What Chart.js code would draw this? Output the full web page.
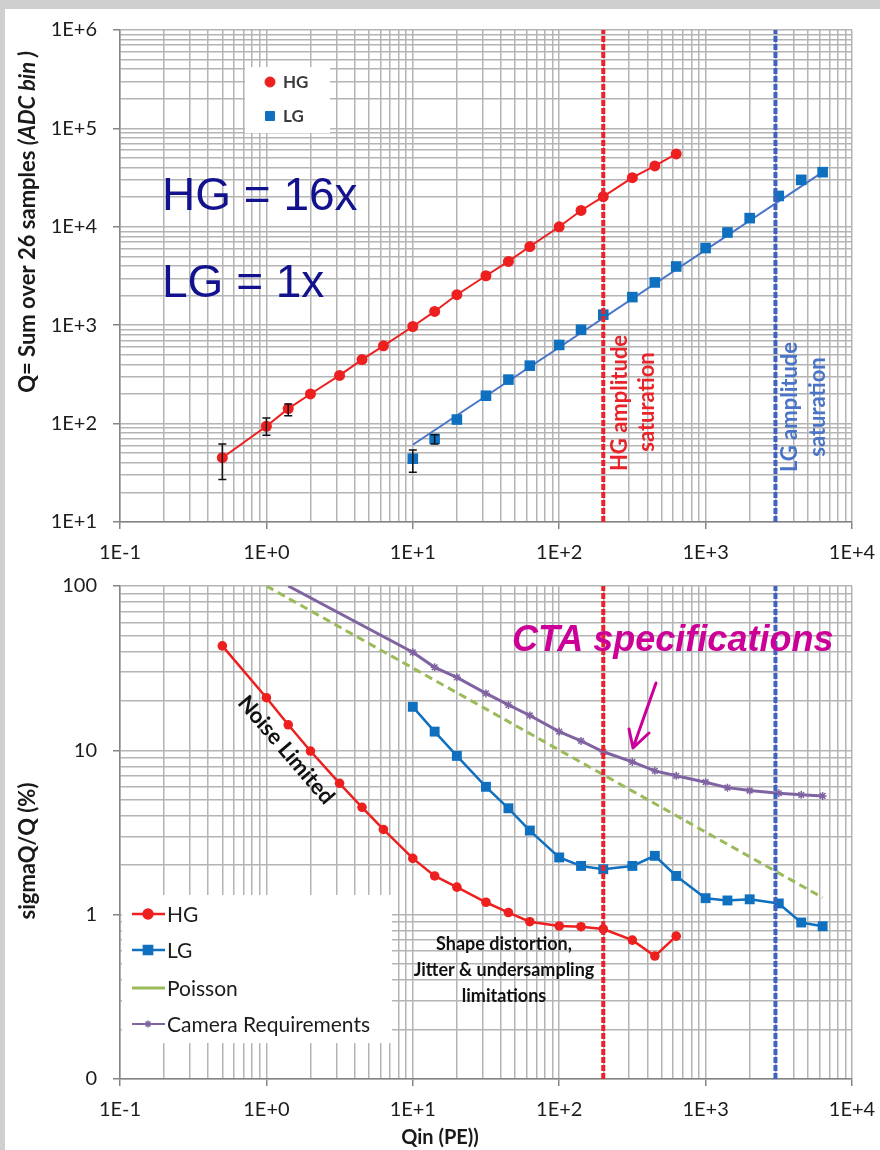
<!DOCTYPE html>
<html><head><meta charset="utf-8">
<script src="https://cdn.jsdelivr.net/npm/chart.js@4.4.1/dist/chart.umd.min.js"></script>
<style>
html,body{margin:0;padding:0;}
body{width:880px;height:1150px;background:#cfcfcf;position:relative;overflow:hidden;}
#panel{position:absolute;left:5px;top:9px;width:875px;height:1141px;background:#fff;}
canvas{position:absolute;left:0;}
#c1{top:0;} #c2{top:565px;}
</style></head><body>
<div id="panel"></div>
<canvas id="c1" width="880" height="565"></canvas>
<canvas id="c2" width="880" height="585"></canvas>
<script>
// ---------- tick labels ----------
const xTickValues = [0.1, 1, 10, 100, 1000, 10000];
const xTickLabels = ['1E-1', '1E+0', '1E+1', '1E+2', '1E+3', '1E+4'];
const qTickValues = [10, 100, 1000, 10000, 100000, 1000000];
const qTickLabels = ['1E+1', '1E+2', '1E+3', '1E+4', '1E+5', '1E+6'];
const sTickValues = [0.1, 1, 10, 100];
const sTickLabels = ['0', '1', '10', '100'];

// ---------- top chart: Q vs Qin ----------
const hgQin = [0.5, 1, 1.41, 2, 3.16, 4.5, 6.3, 10, 14.1, 20, 31.6, 45, 63, 100, 141, 200, 316, 450, 630];
const hgQ = [45, 94, 142, 200, 309, 447, 617, 970, 1380, 2040, 3180, 4450, 6300, 10000, 14650, 20300, 31600, 41600, 55000];
const hgQErrLo = [27, 76, 120];
const hgQErrHi = [62, 114, 158];
const lgQin = [10, 14.1, 20, 31.6, 45, 63, 100, 141, 200, 316, 450, 630, 1000, 1410, 2000, 3160, 4500, 6300];
const lgQ = [44, 70, 110, 192, 280, 388, 630, 900, 1280, 1930, 2720, 3950, 6080, 8760, 12250, 20600, 30000, 35900];
const lgQErrLo = [32, 62];
const lgQErrHi = [54, 77];
const lgFitQin = [10, 6300];
const lgFitQ = [61, 36000];
const hgSatQin = 200;
const lgSatQin = 3000;

// ---------- bottom chart: sigmaQ/Q ----------
const hgSigma = [43.2, 20.9, 14.3, 9.9, 6.3, 4.5, 3.3, 2.2, 1.72, 1.47, 1.19, 1.03, 0.906, 0.853, 0.845, 0.818, 0.70, 0.56, 0.74];
const lgSigma = [18.4, 13.0, 9.25, 6.0, 4.44, 3.25, 2.23, 1.98, 1.89, 1.98, 2.28, 1.72, 1.26, 1.22, 1.24, 1.17, 0.896, 0.85];
const poissonQin = [1, 6300];
const poissonSigma = [100, 1.27];
const camQin = [1.41, 10, 14.1, 20, 31.6, 45, 63, 100, 141, 200, 316, 450, 630, 1000, 1410, 2000, 3160, 4500, 6300];
const camSigma = [100, 39.5, 32, 27.8, 22.2, 18.9, 16.3, 13.0, 11.4, 9.8, 8.5, 7.5, 7.0, 6.4, 5.93, 5.69, 5.48, 5.36, 5.28];

// ---------- colours ----------
const RED = '#ee1f1f', RED_V = '#e8242a', BLUE = '#1070c0', BLUE_FIT = '#4a74c6', BLUE_V = '#3e62bd';
const GREEN = '#9bbb59', PURPLE = '#8064a2', MAGENTA = '#cc0099', NAVY = '#12128f';

const pts = (xs, ys) => xs.map((x, i) => ({ x, y: ys[i] }));
const vline = (x, ys) => [{ x, y: ys[0] }, { x, y: ys[ys.length - 1] }];
const sameVal = (a, b) => Math.abs(Math.log10(a) - Math.log10(b)) < 1e-6;

function logTicks(majors) {
  const t = [];
  for (let i = 0; i < majors.length; i++) {
    t.push({ value: majors[i] });
    if (i < majors.length - 1) for (let k = 2; k <= 9; k++) t.push({ value: +(majors[i] * k).toPrecision(6) });
  }
  return t;
}
function axis(majors, labels, isX, xHeight) {
  return {
    type: 'logarithmic', position: isX ? 'bottom' : 'left',
    min: majors[0], max: majors[majors.length - 1],
    afterBuildTicks: s => { s.ticks = logTicks(majors); },
    afterFit: s => {
      if (isX) { s.height = xHeight; s.paddingLeft = 0; s.paddingRight = 0; }
      else { s.width = 120; s.paddingTop = 0; s.paddingBottom = 0; }
    },
    ticks: {
      autoSkip: false, maxRotation: 0, minRotation: 0, padding: isX ? 12 : 16,
      color: '#1c1c1c', font: { family: 'Lato', size: 20 },
      callback: v => { const i = majors.findIndex(m => sameVal(m, v)); return i >= 0 ? labels[i] : ''; }
    },
    grid: {
      color: '#b4b4b4', lineWidth: 1.5, tickLength: 7,
      tickColor: c => (c.tick && majors.some(m => sameVal(m, c.tick.value))) ? '#858585' : 'rgba(0,0,0,0)'
    },
    border: { color: '#858585', width: 1.5 }
  };
}

function txt(ctx, s, x, y, o) {
  ctx.save();
  ctx.translate(x, y);
  if (o.rot) ctx.rotate(o.rot);
  ctx.font = o.font; ctx.fillStyle = o.color;
  ctx.textAlign = o.align || 'center'; ctx.textBaseline = o.base || 'middle';
  if (o.w) { const m = ctx.measureText(s).width; if (m > o.w) ctx.scale(o.w / m, 1); }
  ctx.fillText(s, 0, 0);
  ctx.restore();
}
function richRot(ctx, parts, cx, cy, rot, target, color) {
  ctx.save();
  ctx.translate(cx, cy); ctx.rotate(rot);
  let total = 0;
  parts.forEach(p => { ctx.font = p[1]; total += ctx.measureText(p[0]).width; });
  const k = total > target ? target / total : 1;
  ctx.scale(k, 1);
  let x = -total / 2;
  ctx.fillStyle = color; ctx.textBaseline = 'middle'; ctx.textAlign = 'left';
  parts.forEach(p => { ctx.font = p[1]; ctx.fillText(p[0], x, 0); x += ctx.measureText(p[0]).width; });
  ctx.restore();
}
function marker(ctx, style, r, x, y, color, bw) {
  ctx.save();
  ctx.fillStyle = color; ctx.strokeStyle = color; ctx.lineWidth = bw || 1;
  Chart.helpers.drawPoint(ctx, { pointStyle: style, radius: r, rotation: 0, borderWidth: bw || 1 }, x, y);
  ctx.restore();
}

// ---------- top chart ----------
const topPlugin = {
  id: 'topDecor',
  afterDatasetsDraw(chart) {
    const ctx = chart.ctx, xs = chart.scales.x, ys = chart.scales.y;
    ctx.save(); ctx.strokeStyle = '#111'; ctx.lineWidth = 1.5;
    const bars = (xv, lo, hi) => lo.forEach((l, i) => {
      const px = xs.getPixelForValue(xv[i]), y1 = ys.getPixelForValue(l), y2 = ys.getPixelForValue(hi[i]);
      ctx.beginPath(); ctx.moveTo(px, y1); ctx.lineTo(px, y2);
      ctx.moveTo(px - 4, y1); ctx.lineTo(px + 4, y1); ctx.moveTo(px - 4, y2); ctx.lineTo(px + 4, y2); ctx.stroke();
    });
    bars(hgQin, hgQErrLo, hgQErrHi); bars(lgQin, lgQErrLo, lgQErrHi);
    ctx.restore();
  },
  afterDraw(chart) {
    const ctx = chart.ctx;
    ctx.save(); ctx.fillStyle = '#fff'; ctx.fillRect(245, 67, 85, 66); ctx.restore();
    marker(ctx, 'circle', 5, 270, 82, RED);
    marker(ctx, 'rect', 6.4, 270, 116, BLUE);
    txt(ctx, 'HG', 283, 83, { font: 'bold 17px Lato', color: '#3a3a3a', align: 'left' });
    txt(ctx, 'LG', 283, 117, { font: 'bold 17px Lato', color: '#3a3a3a', align: 'left' });
    txt(ctx, 'HG = 16x', 162, 210, { font: '46px "Liberation Sans"', color: NAVY, align: 'left', base: 'alphabetic' });
    txt(ctx, 'LG = 1x', 162, 297, { font: '46px "Liberation Sans"', color: NAVY, align: 'left', base: 'alphabetic' });
    const R = -Math.PI / 2;
    txt(ctx, 'HG amplitude', 620, 403, { font: 'bold 22px Lato', color: RED_V, rot: R, w: 137 });
    txt(ctx, 'saturation', 647, 402, { font: 'bold 22px Lato', color: RED_V, rot: R, w: 101 });
    txt(ctx, 'LG amplitude', 790, 407, { font: 'bold 22px Lato', color: BLUE_FIT, rot: R, w: 135 });
    txt(ctx, 'saturation', 818, 407, { font: 'bold 22px Lato', color: BLUE_FIT, rot: R, w: 101 });
    richRot(ctx, [['Q= Sum over 26 samples ', 'bold 22px Lato'], ['(ADC bin )', 'italic bold 22px Lato']], 28, 222, R, 363, '#1a1a1a');
  }
};

new Chart(document.getElementById('c1'), {
  type: 'scatter',
  data: {
    datasets: [
      { data: vline(hgSatQin, qTickValues), showLine: true, borderColor: RED_V, borderWidth: 4, borderDash: [6, 2], pointRadius: 0 },
      { data: vline(lgSatQin, qTickValues), showLine: true, borderColor: BLUE_V, borderWidth: 4, borderDash: [6, 2], pointRadius: 0 },
      { data: pts(hgQin, hgQ), showLine: true, borderColor: RED, borderWidth: 2, pointStyle: 'circle', pointRadius: 5.5, pointBackgroundColor: RED, pointBorderColor: RED, pointBorderWidth: 0 },
      { data: pts(lgQin, lgQ), showLine: false, pointStyle: 'rect', pointRadius: 7.5, pointBackgroundColor: BLUE, pointBorderColor: BLUE, pointBorderWidth: 0 },
      { data: pts(lgFitQin, lgFitQ), showLine: true, borderColor: BLUE_FIT, borderWidth: 2, pointRadius: 0 }
    ]
  },
  options: {
    responsive: false, animation: false, devicePixelRatio: 1,
    layout: { padding: { left: 0, right: 28, top: 30, bottom: 0 } },
    plugins: { legend: { display: false }, tooltip: { enabled: false } },
    scales: { x: axis(xTickValues, xTickLabels, true, 43), y: axis(qTickValues, qTickLabels, false) }
  },
  plugins: [topPlugin]
});

// ---------- bottom chart ----------
const botLegend = [
  { label: 'HG', color: RED, width: 2.5, style: 'circle', r: 5 },
  { label: 'LG', color: BLUE, width: 2.5, style: 'rect', r: 6.5 },
  { label: 'Poisson', color: GREEN, width: 3, style: false, r: 0 },
  { label: 'Camera Requirements', color: PURPLE, width: 2, style: 'star', r: 3.5 }
];
const botPlugin = {
  id: 'botDecor',
  afterDraw(chart) {
    const ctx = chart.ctx;
    ctx.save(); ctx.fillStyle = '#fff'; ctx.fillRect(122, 330, 270, 148); ctx.restore();
    const rows = [349, 385, 423, 459];
    botLegend.forEach((it, i) => {
      const y = rows[i];
      ctx.save(); ctx.strokeStyle = it.color; ctx.lineWidth = it.width;
      ctx.beginPath(); ctx.moveTo(132, y); ctx.lineTo(165, y); ctx.stroke(); ctx.restore();
      if (it.style) marker(ctx, it.style, it.r, 148, y, it.color, 1.5);
      txt(ctx, it.label, 167, y + 1, { font: '21px Lato', color: '#1c1c1c', align: 'left', w: 218 });
    });
    txt(ctx, 'CTA specifications', 512, 86, { font: 'italic bold 36px "Liberation Sans"', color: MAGENTA, align: 'left', base: 'alphabetic', w: 330 });
    ctx.save(); ctx.strokeStyle = MAGENTA; ctx.lineWidth = 3; ctx.lineCap = 'round'; ctx.lineJoin = 'round';
    ctx.beginPath(); ctx.moveTo(656, 118); ctx.lineTo(633, 183);
    ctx.moveTo(629, 164); ctx.lineTo(633, 183); ctx.lineTo(649, 168); ctx.stroke(); ctx.restore();
    txt(ctx, 'Noise Limited', 286, 185, { font: 'bold 22px Lato', color: '#111', rot: Math.atan2(112, 96), w: 142 });
    txt(ctx, 'Shape distortion,', 504, 379, { font: 'bold 18px Lato', color: '#111', w: 160 });
    txt(ctx, 'Jitter & undersampling', 504, 405, { font: 'bold 18px Lato', color: '#111', w: 188 });
    txt(ctx, 'limitations', 504, 431, { font: 'bold 18px Lato', color: '#111', w: 88 });
    txt(ctx, 'sigmaQ/Q (%)', 28, 286, { font: 'bold 22px Lato', color: '#1a1a1a', rot: -Math.PI / 2, w: 139 });
    txt(ctx, 'Qin (PE))', 440, 573, { font: 'bold 20px Lato', color: '#1a1a1a', w: 88 });
  }
};

new Chart(document.getElementById('c2'), {
  type: 'scatter',
  data: {
    datasets: [
      { data: vline(hgSatQin, sTickValues), showLine: true, borderColor: RED_V, borderWidth: 4, borderDash: [6, 2], pointRadius: 0 },
      { data: vline(lgSatQin, sTickValues), showLine: true, borderColor: BLUE_V, borderWidth: 4, borderDash: [6, 2], pointRadius: 0 },
      { data: pts(hgQin, hgSigma), showLine: true, borderColor: RED, borderWidth: 2.5, pointStyle: 'circle', pointRadius: 4.8, pointBackgroundColor: RED, pointBorderColor: RED, pointBorderWidth: 0 },
      { data: pts(lgQin, lgSigma), showLine: true, borderColor: BLUE, borderWidth: 2.5, pointStyle: 'rect', pointRadius: 7, pointBackgroundColor: BLUE, pointBorderColor: BLUE, pointBorderWidth: 0 },
      { data: pts(poissonQin, poissonSigma), showLine: true, borderColor: GREEN, borderWidth: 3, borderDash: [8, 5], pointRadius: 0 },
      { data: pts(camQin, camSigma), showLine: true, borderColor: PURPLE, borderWidth: 3, pointStyle: 'star',
        pointRadius: c => (c.raw && c.raw.y >= 100) ? 0 : 4, pointBorderColor: PURPLE, pointBorderWidth: 1.5 }
    ]
  },
  options: {
    responsive: false, animation: false, devicePixelRatio: 1,
    layout: { padding: { left: 0, right: 28, top: 21, bottom: 0 } },
    plugins: { legend: { display: false }, tooltip: { enabled: false } },
    scales: { x: axis(xTickValues, xTickLabels, true, 71), y: axis(sTickValues, sTickLabels, false) }
  },
  plugins: [botPlugin]
});
</script>
</body></html>
